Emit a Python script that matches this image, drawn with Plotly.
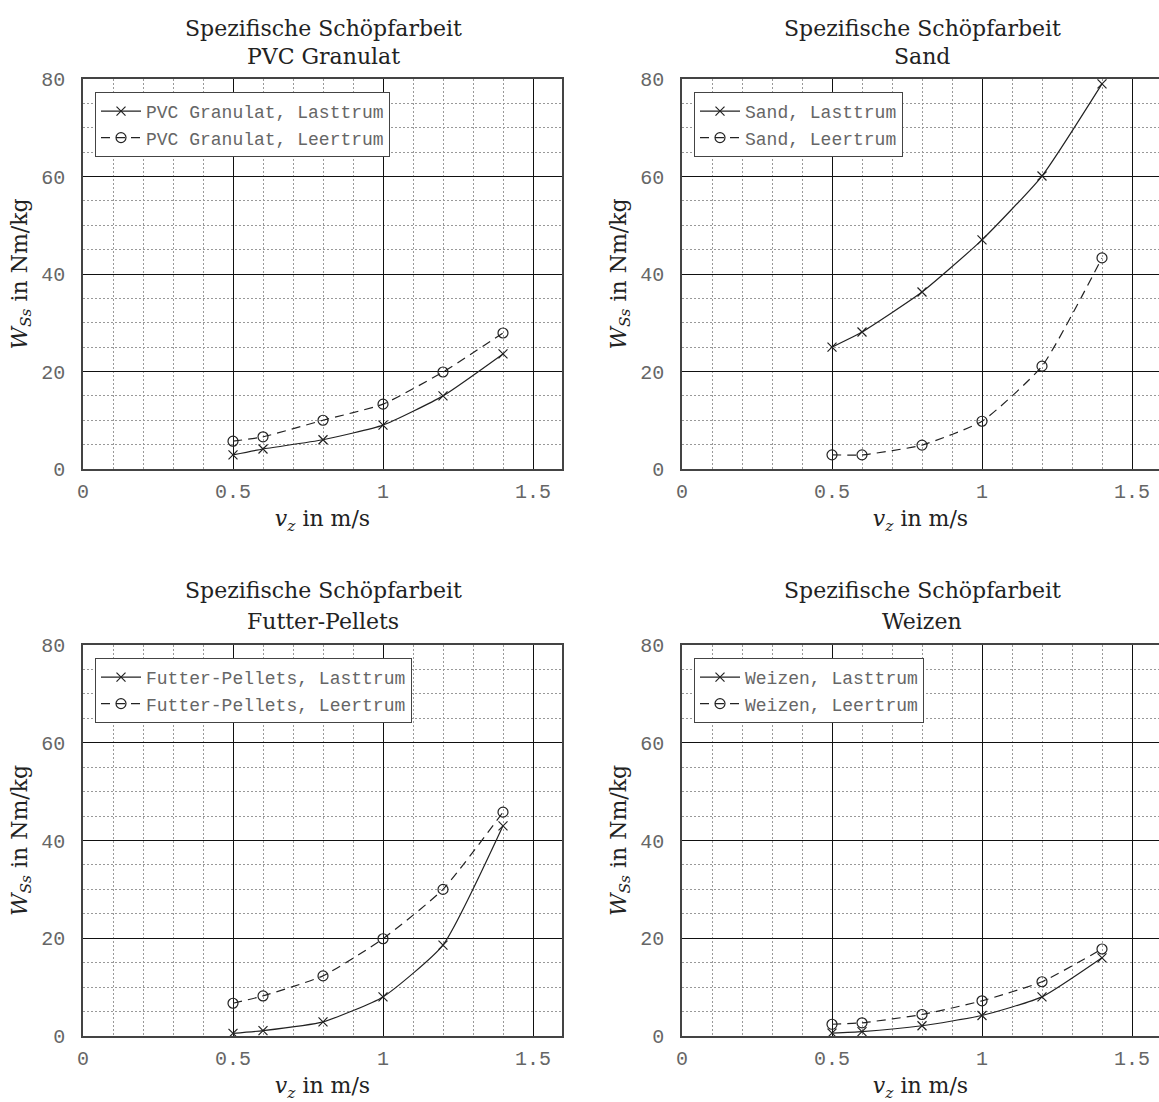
import plotly.graph_objects as go

# Measured specific scooping work per material
v_z = [0.5, 0.6, 0.8, 1.0, 1.2, 1.4]

materials = ["PVC Granulat", "Sand", "Futter-Pellets", "Weizen"]

pvc_last = [2.9, 4.1, 6.0, 9.0, 15.0, 23.6]
pvc_leer = [5.7, 6.6, 10.0, 13.3, 19.9, 27.9]

sand_last = [25.0, 28.1, 36.3, 47.0, 60.1, 79.0]
sand_leer = [2.9, 2.9, 4.9, 9.8, 21.1, 43.3]

futter_last = [0.55, 1.1, 2.9, 8.0, 18.6, 43.0]
futter_leer = [6.7, 8.2, 12.3, 19.9, 30.0, 45.8]

weizen_last = [0.6, 0.9, 2.1, 4.2, 8.0, 16.0]
weizen_leer = [2.4, 2.7, 4.4, 7.2, 11.1, 17.8]

last_series = [pvc_last, sand_last, futter_last, weizen_last]
leer_series = [pvc_leer, sand_leer, futter_leer, weizen_leer]

x_ticks = [0, 0.5, 1, 1.5]
y_ticks = [0, 20, 40, 60, 80]

W, H = 1159, 1102

# pixel boxes of the four panels: (left, right, top, bottom)
panels = [
    (83, 562, 79, 469),
    (682, 1159, 79, 469),
    (83, 562, 645, 1036),
    (682, 1159, 645, 1036),
]
# vertical pixel centres of the two title lines per panel row
title_rows = [(28, 57), (28, 57), (590, 622), (590, 622)]
px_per_unit_x = 300.0

serif = "DejaVu Serif"
mono = "Liberation Mono"
line_col = "#222222"

fig = go.Figure()
layout = {}
annotations = []

for i, (name, last, leer) in enumerate(zip(materials, last_series, leer_series)):
    n = "" if i == 0 else str(i + 1)
    xa, ya = "x" + n, "y" + n
    lg = "legend" + n
    left, right, top, bottom = panels[i]
    xmax = (right - left) / px_per_unit_x
    right_col = i % 2 == 1

    fig.add_trace(go.Scatter(
        x=v_z, y=last, xaxis=xa, yaxis=ya, legend=lg,
        name=f"{name}, Lasttrum", mode="lines+markers",
        line=dict(color=line_col, width=1.2, shape="spline", smoothing=0.5),
        marker=dict(symbol="x-thin", size=9, line=dict(color=line_col, width=1.2)),
    ))
    fig.add_trace(go.Scatter(
        x=v_z, y=leer, xaxis=xa, yaxis=ya, legend=lg,
        name=f"{name}, Leertrum", mode="lines+markers",
        line=dict(color=line_col, width=1.2, dash="9px,6px", shape="spline", smoothing=0.5),
        marker=dict(symbol="circle-open", size=10, color=line_col, line=dict(width=1.2)),
    ))

    dom_x = [left / W, min(right / W, 1.0)]
    dom_y = [1 - bottom / H, 1 - top / H]

    layout["xaxis" + n] = dict(
        domain=dom_x, anchor=ya, range=[0, xmax], tickvals=x_ticks,
        ticktext=[("%g" % t) for t in x_ticks],
        showline=True, linecolor="#444", linewidth=1.5, mirror=True,
        showgrid=True, gridcolor="#111", gridwidth=1, zeroline=False,
        ticks="", ticklen=0, automargin=False, ticklabelstandoff=3,
        tickfont=dict(family=mono, size=20, color="#666"),
        minor=dict(dtick=0.1, tick0=0, showgrid=True, gridcolor="#999",
                   griddash="2px,2px", gridwidth=1),
        title=dict(text="<i>v</i><sub><i>z</i></sub> in m/s",
                   font=dict(family=serif, size=22, color="#222"), standoff=8),
        fixedrange=True,
    )
    layout["yaxis" + n] = dict(
        domain=dom_y, anchor=xa, range=[0, 80], tickvals=y_ticks,
        showline=True, linecolor="#444", linewidth=1.5, mirror=not right_col,
        showgrid=True, gridcolor="#111", gridwidth=1, zeroline=False,
        ticks="", ticklen=0, automargin=False, ticklabelstandoff=12,
        tickfont=dict(family=mono, size=20, color="#666"),
        minor=dict(dtick=5, tick0=0, showgrid=True, gridcolor="#999",
                   griddash="2px,2px", gridwidth=1),
        title=dict(text="<i>W</i><sub><i>Ss</i></sub> in Nm/kg",
                   font=dict(family=serif, size=22, color="#222"), standoff=8),
        fixedrange=True,
    )
    layout[lg] = dict(
        x=(left + 12) / W, y=1 - (top + 13) / H, xanchor="left", yanchor="top",
        bgcolor="white", bordercolor="#444", borderwidth=1,
        font=dict(family=mono, size=18, color="#666"),
        itemwidth=40, tracegroupgap=0,
    )

    cx = (left + (left + 480)) / 2
    for text, yp in zip(["Spezifische Schöpfarbeit", name], title_rows[i]):
        annotations.append(dict(
            x=cx / W, y=1 - yp / H, xref="paper", yref="paper", showarrow=False,
            text=text, font=dict(family=serif, size=22, color="#222"),
            xanchor="center", yanchor="middle",
        ))

fig.update_layout(
    width=W, height=H,
    margin=dict(l=0, r=0, t=0, b=0),
    paper_bgcolor="white", plot_bgcolor="white",
    annotations=annotations, **layout,
)

fig.write_html("out.html")
